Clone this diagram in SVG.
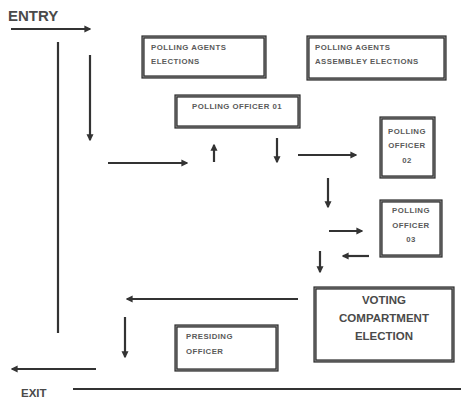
<svg xmlns="http://www.w3.org/2000/svg" width="461" height="401" viewBox="0 0 461 401">
<style>
.box{fill:#fff;stroke:#2b2b2b;stroke-width:3.2}
.inner{fill:none;stroke:#9a9a9a;stroke-width:0.8}
.sm{font-family:"Liberation Sans",Arial,sans-serif;font-size:7.8px;font-weight:bold;fill:#5a5a5a;letter-spacing:0.45px}
.big{font-family:"Liberation Sans",Arial,sans-serif;font-size:11.5px;font-weight:bold;fill:#4a4a4a}
.lbl{font-family:"Liberation Sans",Arial,sans-serif;font-weight:bold;fill:#4a4a4a}
.ln{stroke:#333;stroke-width:2.2;fill:none}
</style>
<defs>
<marker id="ah" viewBox="0 0 10 10" refX="8" refY="5" markerWidth="3.2" markerHeight="3.2" orient="auto" markerUnits="strokeWidth">
<path d="M0,0 L10,5 L0,10 z" fill="#333"/>
</marker>
</defs>
<rect width="461" height="401" fill="#fff"/>
<text class="lbl" x="8" y="21" font-size="15">ENTRY</text>
<text class="lbl" x="21" y="397" font-size="11.5">EXIT</text>

<g id="pa-elections">
<rect class="box" x="143" y="37" width="122" height="40"/>
<rect class="inner" x="143" y="37" width="122" height="40"/>
<text class="sm" x="151" y="50">POLLING AGENTS</text>
<text class="sm" x="151" y="64">ELECTIONS</text>
</g>
<g id="pa-assembly">
<rect class="box" x="308" y="37" width="137" height="42"/>
<rect class="inner" x="308" y="37" width="137" height="42"/>
<text class="sm" x="315" y="50">POLLING AGENTS</text>
<text class="sm" x="315" y="64">ASSEMBLEY ELECTIONS</text>
</g>
<g id="po1">
<rect class="box" x="176" y="96" width="123" height="31"/>
<rect class="inner" x="176" y="96" width="123" height="31"/>
<text class="sm" x="237" y="109" text-anchor="middle">POLLING OFFICER 01</text>
</g>
<g id="po2">
<rect class="box" x="381" y="118" width="53" height="59"/>
<rect class="inner" x="381" y="118" width="53" height="59"/>
<text class="sm" x="407" y="134" text-anchor="middle">POLLING</text>
<text class="sm" x="407" y="148" text-anchor="middle">OFFICER</text>
<text class="sm" x="407" y="163" text-anchor="middle">02</text>
</g>
<g id="po3">
<rect class="box" x="381" y="201" width="60" height="55"/>
<rect class="inner" x="381" y="201" width="60" height="55"/>
<text class="sm" x="411" y="213" text-anchor="middle">POLLING</text>
<text class="sm" x="411" y="228" text-anchor="middle">OFFICER</text>
<text class="sm" x="411" y="242" text-anchor="middle">03</text>
</g>
<g id="voting">
<rect class="box" x="315" y="288" width="138" height="73"/>
<rect class="inner" x="315" y="288" width="138" height="73"/>
<text class="big" x="384" y="304" text-anchor="middle">VOTING</text>
<text class="big" x="384" y="322" text-anchor="middle">COMPARTMENT</text>
<text class="big" x="384" y="340" text-anchor="middle">ELECTION</text>
</g>
<g id="presiding">
<rect class="box" x="176" y="326" width="101" height="44"/>
<rect class="inner" x="176" y="326" width="101" height="44"/>
<text class="sm" x="186" y="339">PRESIDING</text>
<text class="sm" x="186" y="354">OFFICER</text>
</g>

<g id="connectors">
<line class="ln" x1="11" y1="29" x2="90" y2="29" marker-end="url(#ah)"/>
<line class="ln" x1="58" y1="42" x2="58" y2="333"/>
<line class="ln" x1="90" y1="55" x2="90" y2="140" marker-end="url(#ah)"/>
<line class="ln" x1="108" y1="163" x2="187" y2="163" marker-end="url(#ah)"/>
<line class="ln" x1="214" y1="162" x2="214" y2="145" marker-end="url(#ah)"/>
<line class="ln" x1="277" y1="138" x2="277" y2="162" marker-end="url(#ah)"/>
<line class="ln" x1="298" y1="155" x2="356" y2="155" marker-end="url(#ah)"/>
<line class="ln" x1="328" y1="178" x2="328" y2="207" marker-end="url(#ah)"/>
<line class="ln" x1="329" y1="231" x2="362" y2="231" marker-end="url(#ah)"/>
<line class="ln" x1="369" y1="256" x2="343" y2="256" marker-end="url(#ah)"/>
<line class="ln" x1="320" y1="251" x2="320" y2="272" marker-end="url(#ah)"/>
<line class="ln" x1="298" y1="299" x2="127" y2="299" marker-end="url(#ah)"/>
<line class="ln" x1="125" y1="317" x2="125" y2="357" marker-end="url(#ah)"/>
<line class="ln" x1="96" y1="369" x2="12" y2="369" marker-end="url(#ah)"/>
<line class="ln" x1="73" y1="389" x2="461" y2="389"/>
</g>
</svg>
